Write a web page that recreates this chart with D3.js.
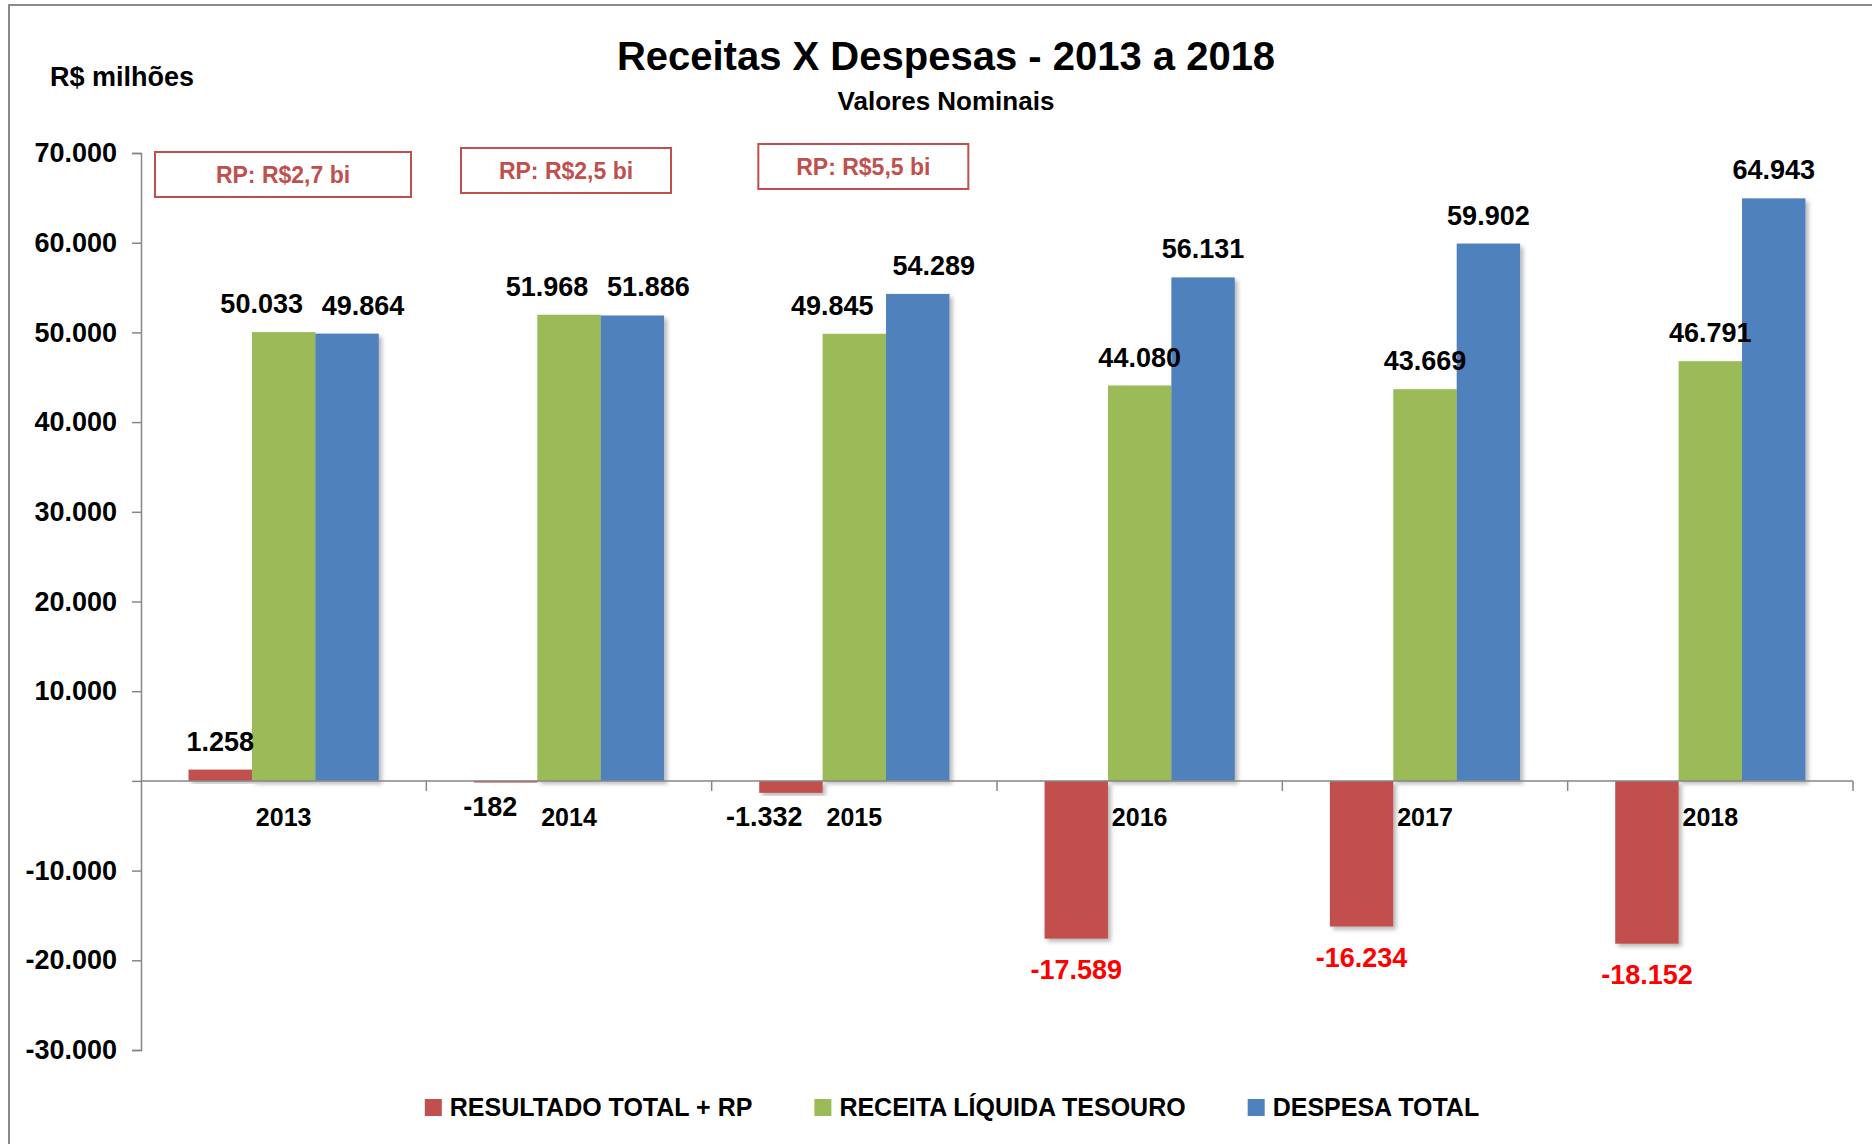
<!DOCTYPE html>
<html>
<head>
<meta charset="utf-8">
<script src="https://cdn.jsdelivr.net/npm/d3@7"></script>
<style>
  body { margin: 0; background: #fff; }
  text { font-family: "Liberation Sans", Arial, sans-serif; font-weight: bold; }
</style>
</head>
<body>
<svg id="chart" width="1872" height="1144"></svg>
<script>
// data (R$ milhões)
const years = ["2013", "2014", "2015", "2016", "2017", "2018"];
const seriesNames = ["RESULTADO TOTAL + RP", "RECEITA LÍQUIDA TESOURO", "DESPESA TOTAL"];
const seriesColors = ["#C0504D", "#9BBB59", "#4F81BD"];
const resultado = [1258, -182, -1332, -17589, -16234, -18152];
const receita = [50033, 51968, 49845, 44080, 43669, 46791];
const despesa = [49864, 51886, 54289, 56131, 59902, 64943];
const yTicks = [-30000, -20000, -10000, 0, 10000, 20000, 30000, 40000, 50000, 60000, 70000];
const rpNotes = ["RP: R$2,7 bi", "RP: R$2,5 bi", "RP: R$5,5 bi"];

const svg = d3.select("#chart"),
  width = +svg.attr("width"),
  height = +svg.attr("height");

const br = d3.formatLocale({ decimal: ",", thousands: ".", grouping: [3], currency: ["R$", ""], minus: "-" });
const fmt = br.format(",.0f");

// outer frame
svg.append("rect")
  .attr("x", 9).attr("y", 5)
  .attr("width", width + 20).attr("height", height + 20)
  .attr("fill", "none").attr("stroke", "#8a8a8a").attr("stroke-width", 2);

// shadow for bars
const defs = svg.append("defs");
const f = defs.append("filter").attr("id", "shadow").attr("x", "-20%").attr("y", "-20%").attr("width", "140%").attr("height", "140%");
f.append("feDropShadow").attr("dx", 3).attr("dy", 3).attr("stdDeviation", 2)
  .attr("flood-color", "#000").attr("flood-opacity", 0.28);

const x0 = d3.scaleBand().domain(years).range([141, 1853]);
const x1 = d3.scaleBand().domain(d3.range(3)).range([0, x0.bandwidth()]).paddingOuter(0.75);
const y = d3.scaleLinear().domain([-30000, 70000]).range([1050, 153]);

const rows = years.map((yr, i) => ({ year: yr, values: [resultado[i], receita[i], despesa[i]] }));

// title
svg.append("text").attr("x", 946).attr("y", 70).attr("text-anchor", "middle")
  .attr("font-size", 40).text("Receitas X Despesas - 2013 a 2018");
svg.append("text").attr("x", 946).attr("y", 110).attr("text-anchor", "middle")
  .attr("font-size", 26).text("Valores Nominais");
svg.append("text").attr("x", 50).attr("y", 86)
  .attr("font-size", 27).text("R$ milhões");

// y axis
const yAxis = svg.append("g").attr("transform", "translate(141,0)")
  .call(d3.axisLeft(y).tickValues(yTicks).tickSize(9).tickPadding(15)
    .tickFormat(d => d === 0 ? "" : fmt(d)));
yAxis.select(".domain").attr("stroke", "#868686").attr("stroke-width", 1.5);
yAxis.selectAll(".tick line").attr("stroke", "#868686").attr("stroke-width", 1.5);
yAxis.selectAll(".tick text").attr("font-size", 27).attr("fill", "#000")
  .attr("font-family", "Liberation Sans, Arial, sans-serif").attr("font-weight", "bold");

// bars
const groups = svg.append("g").selectAll("g").data(rows).join("g")
  .attr("transform", d => `translate(${x0(d.year)},0)`);

groups.selectAll("rect").data(d => d.values.map((v, k) => ({ v, k })))
  .join("rect")
  .attr("x", d => x1(d.k))
  .attr("width", x1.bandwidth())
  .attr("y", d => y(Math.max(0, d.v)))
  .attr("height", d => Math.abs(y(d.v) - y(0)))
  .attr("fill", d => seriesColors[d.k])
  .attr("filter", "url(#shadow)");

// x axis line with ticks at category boundaries
const xAxis = svg.append("g");
xAxis.append("line").attr("x1", 141).attr("x2", 1853).attr("y1", y(0)).attr("y2", y(0))
  .attr("stroke", "#868686").attr("stroke-width", 1.5);
xAxis.selectAll(".xt").data(years).join("line").attr("class", "xt")
  .attr("x1", d => x0(d) + x0.bandwidth()).attr("x2", d => x0(d) + x0.bandwidth())
  .attr("y1", y(0)).attr("y2", y(0) + 10)
  .attr("stroke", "#868686").attr("stroke-width", 1.5);
xAxis.selectAll(".xl").data(years).join("text").attr("class", "xl")
  .attr("x", d => x0(d) + x0.bandwidth() / 2).attr("y", y(0) + 45)
  .attr("text-anchor", "middle").attr("font-size", 25).text(d => d);

// data labels
groups.each(function (d) {
  const g = d3.select(this);
  const [r, rec, desp] = d.values;
  const close = Math.abs(y(rec) - y(desp)) < 45;
  d.values.forEach((v, k) => {
    let cx = x1(k) + x1.bandwidth() / 2;
    let ty, anchor = "middle";
    if (k === 0 && v < 0) {
      if (Math.abs(v) < 5000) {
        // small negatives: pulled left so they clear the year label
        cx = x1(k) + x1.bandwidth() - 20; anchor = "end"; ty = y(v) + 33;
      } else ty = y(v) + 40;
    } else {
      ty = y(v) - 19;
    }
    if (close && k === 1) cx -= 22;
    if (close && k === 2) cx += 16;
    g.append("text").attr("x", cx).attr("y", ty).attr("text-anchor", anchor)
      .attr("font-size", 27)
      .attr("fill", v < -5000 ? "#FF0000" : "#000")
      .text(fmt(v));
  });
});

// RP annotation boxes over the first three years
rpNotes.forEach((t, i) => {
  const cx = x0(years[i]) + x0.bandwidth() / 2;
  const w = i === 0 ? 256 : 210;
  const top = 152 - i * 4;
  const bx = i === 0 ? 155 : cx - 108 + (i - 1) * 12;
  const gb = svg.append("g");
  gb.append("rect").attr("x", bx).attr("y", top).attr("width", w).attr("height", 45)
    .attr("fill", "#fff").attr("stroke", "#C0504D").attr("stroke-width", 2);
  gb.append("text").attr("x", bx + w / 2).attr("y", top + 31).attr("text-anchor", "middle")
    .attr("font-size", 23).attr("fill", "#C0504D").text(t);
});

// legend, centred under the plot
const legend = svg.append("g");
let lx = 0;
seriesNames.forEach((name, k) => {
  const item = legend.append("g").attr("transform", `translate(${lx},0)`);
  item.append("rect").attr("x", 0).attr("y", -8).attr("width", 17).attr("height", 17)
    .attr("fill", seriesColors[k]);
  const t = item.append("text").attr("x", 25).attr("y", 9).attr("font-size", 25).text(name);
  lx += 25 + t.node().getComputedTextLength() + 62;
});
const lw = lx - 62;
legend.attr("transform", `translate(${952 - lw / 2},1107)`);
</script>
</body>
</html>
